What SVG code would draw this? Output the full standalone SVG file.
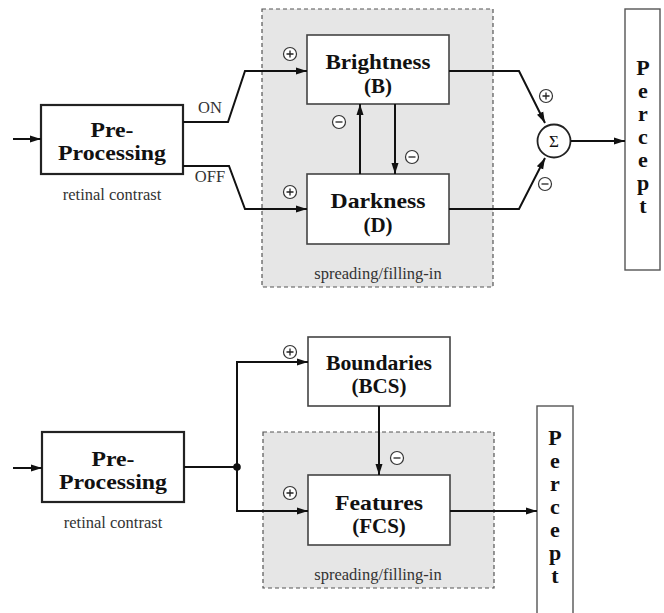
<svg xmlns="http://www.w3.org/2000/svg" width="664" height="613" viewBox="0 0 664 613">
  <defs>
    <marker id="arrow" markerUnits="userSpaceOnUse" markerWidth="12" markerHeight="8" refX="11" refY="4" orient="auto">
      <path d="M0,0.5 L11,4 L0,7.5 z" fill="#111"/>
    </marker>
    <style>
      .region { fill: #e6e6e6; stroke: #555; stroke-width: 1.2; stroke-dasharray: 4 3; }
      .box { fill: #fff; stroke: #444; stroke-width: 1.6; }
      .prebox { fill: #fff; stroke: #222; stroke-width: 2.2; }
      .pbox { fill: #fff; stroke: #555; stroke-width: 1.4; }
      .wire { fill: none; stroke: #111; stroke-width: 2; }
      .arr { fill: none; stroke: #111; stroke-width: 2; marker-end: url(#arrow); }
      .sign { fill: #fff; stroke: #333; stroke-width: 1.2; }
      .signmark { stroke: #222; stroke-width: 1.3; }
      .label { font-family: "Liberation Serif", "Times New Roman", serif; font-weight: bold; font-size: 21px; fill: #111; text-anchor: middle; }
      .small { font-family: "Liberation Serif", "Times New Roman", serif; font-size: 16.5px; fill: #333; text-anchor: middle; }
      .letter { font-family: "Liberation Serif", "Times New Roman", serif; font-weight: bold; font-size: 22px; fill: #111; text-anchor: middle; }
    </style>
    <g id="plus">
      <circle class="sign" cx="0" cy="0" r="6.5"/>
      <path class="signmark" d="M-3.5,0 H3.5 M0,-3.5 V3.5"/>
    </g>
    <g id="minus">
      <circle class="sign" cx="0" cy="0" r="6.5"/>
      <path class="signmark" d="M-3.5,0 H3.5"/>
    </g>
  </defs>

  <rect width="664" height="613" fill="#fff"/>

  <!-- ===== Upper model: ON/OFF brightness and darkness channels ===== -->
  <g id="top-region">
    <rect class="region" x="262" y="9" width="231" height="278"/>
    <text class="small" x="378" y="279">spreading/filling-in</text>
  </g>

  <g id="top-preprocessing">
    <rect class="prebox" x="41" y="105" width="142" height="69"/>
    <text class="label" x="112" y="137" textLength="43" lengthAdjust="spacingAndGlyphs">Pre-</text>
    <text class="label" x="112" y="160" textLength="108" lengthAdjust="spacingAndGlyphs">Processing</text>
    <text class="small" x="112" y="200">retinal contrast</text>
  </g>

  <g id="brightness">
    <rect class="box" x="307" y="35" width="142" height="69"/>
    <text class="label" x="378" y="69" textLength="105" lengthAdjust="spacingAndGlyphs">Brightness</text>
    <text class="label" x="378" y="93">(B)</text>
  </g>

  <g id="darkness">
    <rect class="box" x="307" y="174" width="142" height="70"/>
    <text class="label" x="378" y="208" textLength="95" lengthAdjust="spacingAndGlyphs">Darkness</text>
    <text class="label" x="378" y="232">(D)</text>
  </g>

  <g id="sum">
    <circle cx="554" cy="141" r="16.5" fill="#fff" stroke="#222" stroke-width="1.8"/>
    <text x="554" y="147" font-family="Liberation Serif, serif" font-size="17" text-anchor="middle" fill="#111">Σ</text>
  </g>

  <g id="top-percept">
    <rect class="pbox" x="625" y="9" width="35" height="261"/>
    <text class="letter" x="643" y="75">P</text>
    <text class="letter" x="643" y="98">e</text>
    <text class="letter" x="643" y="121">r</text>
    <text class="letter" x="643" y="144">c</text>
    <text class="letter" x="643" y="167">e</text>
    <text class="letter" x="643" y="190">p</text>
    <text class="letter" x="643" y="213">t</text>
  </g>

  <g id="top-connectors">
    <path class="arr" d="M13,139 H41"/>
    <path class="arr" d="M183,122 H228 L245,71 H307"/>
    <path class="arr" d="M183,166 H229 L245,209 H307"/>
    <path class="arr" d="M360,174 V104"/>
    <path class="arr" d="M395,104 V174"/>
    <path class="arr" d="M449,71 H519 L545,123"/>
    <path class="arr" d="M449,209 H519 L545,158"/>
    <path class="arr" d="M571,141 H625"/>
    <text class="small" x="210" y="113" fill="#222">ON</text>
    <text class="small" x="210" y="182" fill="#222">OFF</text>
    <use href="#plus" x="290" y="54"/>
    <use href="#plus" x="290" y="192"/>
    <use href="#minus" x="339" y="122"/>
    <use href="#minus" x="412" y="157"/>
    <use href="#plus" x="546" y="96"/>
    <use href="#minus" x="545" y="184"/>
  </g>

  <!-- ===== Lower model: boundary and feature contour systems ===== -->
  <g id="bottom-region">
    <rect class="region" x="263" y="432" width="231" height="156"/>
    <text class="small" x="378" y="580">spreading/filling-in</text>
  </g>

  <g id="bottom-preprocessing">
    <rect class="prebox" x="42" y="432" width="142" height="70"/>
    <text class="label" x="113" y="466" textLength="43" lengthAdjust="spacingAndGlyphs">Pre-</text>
    <text class="label" x="113" y="489" textLength="108" lengthAdjust="spacingAndGlyphs">Processing</text>
    <text class="small" x="113" y="528">retinal contrast</text>
  </g>

  <g id="boundaries">
    <rect class="box" x="308" y="337" width="142" height="69"/>
    <text class="label" x="379" y="370" textLength="106" lengthAdjust="spacingAndGlyphs">Boundaries</text>
    <text class="label" x="379" y="393">(BCS)</text>
  </g>

  <g id="features">
    <rect class="box" x="308" y="475" width="142" height="70"/>
    <text class="label" x="379" y="510" textLength="88" lengthAdjust="spacingAndGlyphs">Features</text>
    <text class="label" x="379" y="533">(FCS)</text>
  </g>

  <g id="bottom-percept">
    <rect class="pbox" x="537" y="406" width="36" height="212"/>
    <text class="letter" x="555" y="445">P</text>
    <text class="letter" x="555" y="468">e</text>
    <text class="letter" x="555" y="491">r</text>
    <text class="letter" x="555" y="514">c</text>
    <text class="letter" x="555" y="537">e</text>
    <text class="letter" x="555" y="560">p</text>
    <text class="letter" x="555" y="583">t</text>
  </g>

  <g id="bottom-connectors">
    <path class="arr" d="M13,468 H42"/>
    <path class="wire" d="M184,467 H237"/>
    <path class="arr" d="M237,467 V362 H308"/>
    <path class="arr" d="M237,467 V511 H308"/>
    <circle cx="237" cy="467" r="3.8" fill="#111"/>
    <path class="arr" d="M379,406 V475"/>
    <path class="arr" d="M450,511 H537"/>
    <use href="#plus" x="290" y="352"/>
    <use href="#plus" x="290" y="493"/>
    <use href="#minus" x="397" y="458"/>
  </g>
</svg>
